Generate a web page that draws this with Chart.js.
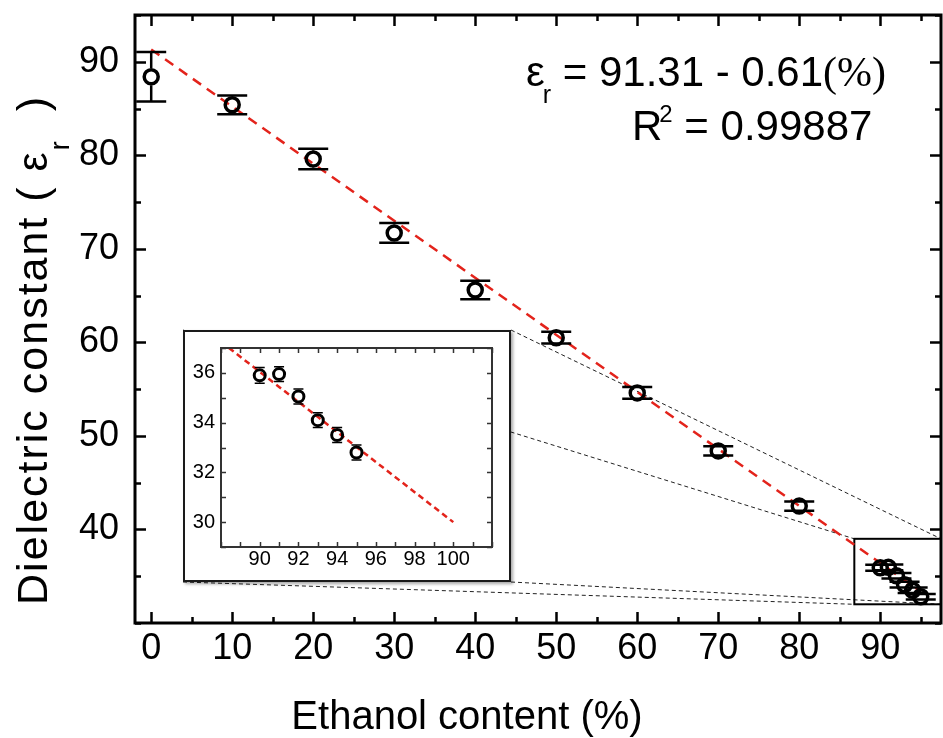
<!DOCTYPE html>
<html>
<head>
<meta charset="utf-8">
<script src="https://cdn.jsdelivr.net/npm/chart.js@4.4.1/dist/chart.umd.min.js"></script>
<style>
  html, body { margin: 0; padding: 0; background: #fff; }
  #wrap { position: relative; width: 943px; height: 738px; overflow: hidden; }
  #mainChart { position: absolute; left: 0; top: 0; }
  #insetBox {
    position: absolute; left: 183px; top: 330px; width: 328px; height: 252px;
    box-sizing: border-box; border: 2px solid #1a1a1a; background: #fff;
    box-shadow: 2px 2px 3px rgba(0, 0, 0, 0.35);
  }
  #insetChart { position: absolute; left: 0; top: 0; }
</style>
</head>
<body>
<div id="wrap">
  <canvas id="mainChart" width="943" height="738"></canvas>
  <div id="insetBox"><canvas id="insetChart" width="324" height="248"></canvas></div>
</div>
<script>
// ---- data ----
var ethanol = [0, 10, 20, 30, 40, 50, 60, 70, 80, 90, 91, 92, 93, 94, 95];
var epsilon = [88.4, 85.4, 79.6, 71.7, 65.6, 60.5, 54.6, 48.4, 42.5, 35.9, 35.95, 35.05, 34.1, 33.5, 32.8];
var epsErr = [2.65, 1.0, 1.1, 1.05, 0.98, 0.63, 0.62, 0.5, 0.5, 0.32, 0.3, 0.3, 0.3, 0.3, 0.3];

// linear fit eps = 91.31 - 0.61(%) as drawn
var fitX = [0, 95];
var fitY = [91.31, 33.36];
var insetFitX = [88, 100];
var insetFitY = [37.25, 30.0];

var xTicks = [0, 10, 20, 30, 40, 50, 60, 70, 80, 90];
var yTicks = [40, 50, 60, 70, 80, 90];
var insetXTicks = [90, 92, 94, 96, 98, 100];
var insetYTicks = [30, 32, 34, 36];

// zoom window marked on the main plot
var zoomX = [86.8, 97.5];
var zoomY = [32, 39];

var insetFrom = 9; // index of the 90 % point

var SANS = '"Liberation Sans", Arial, sans-serif';
var SERIF = '"Liberation Serif", "Times New Roman", serif';
var RED = "#e3231b";

function toXY(xs, ys) {
  return xs.map(function (x, i) {
    return { x: x, y: ys[i] };
  });
}

// keep the plot box where we put it (no extra room for edge labels)
function noPad(s) {
  s.paddingTop = 0;
  s.paddingBottom = 0;
  s.paddingLeft = 0;
  s.paddingRight = 0;
}

// error bars: vertical stem only outside the marker, full caps
function drawErrorBars(chart, xs, ys, errs, capHalf, lw, markR) {
  var ctx = chart.ctx;
  var sx = chart.scales.x;
  var sy = chart.scales.y;
  ctx.save();
  ctx.strokeStyle = "#000";
  ctx.lineWidth = lw;
  ctx.beginPath();
  xs.forEach(function (x, i) {
    var px = sx.getPixelForValue(x);
    var cy = sy.getPixelForValue(ys[i]);
    var top = sy.getPixelForValue(ys[i] + errs[i]);
    var bot = sy.getPixelForValue(ys[i] - errs[i]);
    if (top < cy - markR) {
      ctx.moveTo(px, top);
      ctx.lineTo(px, cy - markR);
    }
    if (bot > cy + markR) {
      ctx.moveTo(px, bot);
      ctx.lineTo(px, cy + markR);
    }
    ctx.moveTo(px - capHalf, top);
    ctx.lineTo(px + capHalf, top);
    ctx.moveTo(px - capHalf, bot);
    ctx.lineTo(px + capHalf, bot);
  });
  ctx.stroke();
  ctx.restore();
}

// box frame with inward ticks on all four sides
function drawFrame(chart, o) {
  var ctx = chart.ctx;
  var a = chart.chartArea;
  var sx = chart.scales.x;
  var sy = chart.scales.y;
  ctx.save();
  ctx.strokeStyle = o.color;
  ctx.lineWidth = o.tickWidth;
  ctx.beginPath();
  var v, px, len;
  for (v = Math.ceil(sx.min / o.xMinor) * o.xMinor; v <= sx.max; v += o.xMinor) {
    px = Math.round(sx.getPixelForValue(v)) + 0.5;
    len = o.xMajor.indexOf(v) > -1 ? o.major : o.minor;
    ctx.moveTo(px, a.bottom);
    ctx.lineTo(px, a.bottom - len);
    ctx.moveTo(px, a.top);
    ctx.lineTo(px, a.top + len);
  }
  for (v = Math.ceil(sy.min / o.yMinor) * o.yMinor; v <= sy.max; v += o.yMinor) {
    px = Math.round(sy.getPixelForValue(v)) + 0.5;
    len = o.yMajor.indexOf(v) > -1 ? o.major : o.minor;
    ctx.moveTo(a.left, px);
    ctx.lineTo(a.left + len, px);
    ctx.moveTo(a.right, px);
    ctx.lineTo(a.right - len, px);
  }
  ctx.stroke();
  ctx.lineWidth = o.frameWidth;
  ctx.strokeRect(a.left, a.top, a.right - a.left, a.bottom - a.top);
  ctx.restore();
}

var mainPlugin = {
  id: "mainDecor",
  beforeDatasetsDraw: function (chart) {
    // zoom window and its connector lines to the inset box
    var ctx = chart.ctx;
    var sx = chart.scales.x;
    var sy = chart.scales.y;
    var box = document.getElementById("insetBox");
    var L = box.offsetLeft, T = box.offsetTop;
    var R = L + box.offsetWidth, B = T + box.offsetHeight;
    var zl = sx.getPixelForValue(zoomX[0]);
    var zr = sx.getPixelForValue(zoomX[1]);
    var zt = sy.getPixelForValue(zoomY[1]);
    var zb = sy.getPixelForValue(zoomY[0]);
    ctx.save();
    ctx.strokeStyle = "#222";
    ctx.lineWidth = 1;
    ctx.setLineDash([4, 3]);
    ctx.beginPath();
    ctx.moveTo(L, T); ctx.lineTo(zl, zt);
    ctx.moveTo(R, T); ctx.lineTo(zr, zt);
    ctx.moveTo(L, B); ctx.lineTo(zl, zb);
    ctx.moveTo(R, B); ctx.lineTo(zr, zb);
    ctx.stroke();
    ctx.setLineDash([]);
    ctx.lineWidth = 2;
    ctx.strokeStyle = "#000";
    ctx.strokeRect(zl, zt, zr - zl, zb - zt);
    ctx.restore();
  },
  beforeDatasetDraw: function (chart, args) {
    if (args.index === 0) {
      drawErrorBars(chart, ethanol, epsilon, epsErr, 15, 2.5, 8.5);
    }
  },
  afterDraw: function (chart) {
    drawFrame(chart, {
      color: "#000", tickWidth: 2.5, frameWidth: 3, major: 11, minor: 6,
      xMajor: xTicks, xMinor: 5, yMajor: yTicks, yMinor: 5
    });
    var ctx = chart.ctx;
    ctx.save();
    ctx.fillStyle = "#000";
    ctx.textAlign = "left";
    ctx.textBaseline = "alphabetic";

    // equation
    ctx.font = "42px " + SANS;
    var x = 526;
    ctx.fillText("\u03b5", x, 86);
    x += ctx.measureText("\u03b5").width - 2;
    ctx.font = "25px " + SANS;
    ctx.fillText("r", x, 103);
    x += ctx.measureText("r").width;
    ctx.font = "42px " + SANS;
    var eq = " = 91.31 - 0.61";
    ctx.fillText(eq, x, 86);
    x += ctx.measureText(eq).width;
    ctx.font = "42px " + SERIF;
    ctx.fillText("(%)", x, 86);

    ctx.font = "42px " + SANS;
    x = 632;
    ctx.fillText("R", x, 140);
    x += ctx.measureText("R").width - 3;
    ctx.font = "24px " + SANS;
    ctx.fillText("2", x, 122);
    x += ctx.measureText("2").width;
    ctx.font = "42px " + SANS;
    ctx.fillText(" = 0.99887", x, 140);

    // x axis title
    ctx.font = "40px " + SANS;
    ctx.textAlign = "center";
    ctx.fillText("Ethanol content (%)", 467, 729);

    // y axis title with subscript
    ctx.translate(47, 350);
    ctx.rotate(-Math.PI / 2);
    ctx.textAlign = "left";
    ctx.letterSpacing = "2px";
    var p1 = "Dielectric constant ( \u03b5";
    var p3 = "  )";
    ctx.font = "43px " + SANS;
    var w1 = ctx.measureText(p1).width;
    var w3 = ctx.measureText(p3).width;
    ctx.font = "27px " + SANS;
    var w2 = ctx.measureText("r").width;
    var x0 = -(w1 + w2 + w3) / 2;
    ctx.font = "43px " + SANS;
    ctx.fillText(p1, x0, 0);
    ctx.font = "27px " + SANS;
    ctx.fillText("r", x0 + w1, 22);
    ctx.font = "43px " + SANS;
    ctx.fillText(p3, x0 + w1 + w2, 0);
    ctx.restore();
  }
};

var insetPlugin = {
  id: "insetDecor",
  beforeDatasetDraw: function (chart, args) {
    if (args.index === 0) {
      drawErrorBars(chart, ethanol.slice(insetFrom), epsilon.slice(insetFrom),
        epsErr.slice(insetFrom), 5, 1.5, 7);
    }
  },
  afterDraw: function (chart) {
    drawFrame(chart, {
      color: "#333", tickWidth: 1.5, frameWidth: 2, major: 5, minor: 5,
      xMajor: insetXTicks, xMinor: 1, yMajor: insetYTicks, yMinor: 1
    });
  }
};

Chart.defaults.font.family = SANS;
Chart.defaults.color = "#000";

new Chart(document.getElementById("mainChart"), {
  type: "scatter",
  data: {
    datasets: [
      {
        label: "Measured",
        data: toXY(ethanol, epsilon),
        pointStyle: "circle",
        pointRadius: 7,
        pointBorderWidth: 3.5,
        pointBorderColor: "#000",
        pointBackgroundColor: "rgba(0,0,0,0)",
        showLine: false
      },
      {
        label: "Fit",
        data: toXY(fitX, fitY),
        showLine: true,
        borderColor: RED,
        borderWidth: 2.5,
        borderDash: [10, 7],
        pointRadius: 0
      }
    ]
  },
  options: {
    responsive: false,
    animation: false,
    events: [],
    layout: { autoPadding: false, padding: { top: 15, right: 2, left: 0, bottom: 0 } },
    plugins: { legend: { display: false }, tooltip: { enabled: false } },
    scales: {
      x: {
        type: "linear",
        min: -2,
        max: 97.5,
        grid: { display: false, drawTicks: false },
        border: { display: false },
        afterBuildTicks: function (s) {
          s.ticks = xTicks.map(function (v) { return { value: v }; });
        },
        afterFit: function (s) { s.height = 115; noPad(s); },
        ticks: { font: { size: 36 }, color: "#000", padding: 4, maxRotation: 0, autoSkip: false }
      },
      y: {
        type: "linear",
        min: 30,
        max: 95,
        grid: { display: false, drawTicks: false },
        border: { display: false },
        afterBuildTicks: function (s) {
          s.ticks = yTicks.map(function (v) { return { value: v }; });
        },
        afterFit: function (s) { s.width = 135; noPad(s); },
        ticks: { font: { size: 36 }, color: "#000", padding: 16, autoSkip: false }
      }
    }
  },
  plugins: [mainPlugin]
});

new Chart(document.getElementById("insetChart"), {
  type: "scatter",
  data: {
    datasets: [
      {
        label: "Measured",
        data: toXY(ethanol.slice(insetFrom), epsilon.slice(insetFrom)),
        pointStyle: "circle",
        pointRadius: 5.5,
        pointBorderWidth: 3,
        pointBorderColor: "#000",
        pointBackgroundColor: "rgba(0,0,0,0)",
        showLine: false
      },
      {
        label: "Fit",
        data: toXY(insetFitX, insetFitY),
        showLine: true,
        borderColor: RED,
        borderWidth: 2.5,
        borderDash: [6, 4],
        pointRadius: 0
      }
    ]
  },
  options: {
    responsive: false,
    animation: false,
    events: [],
    layout: { autoPadding: false, padding: { top: 16, right: 17, left: 0, bottom: 0 } },
    plugins: { legend: { display: false }, tooltip: { enabled: false } },
    scales: {
      x: {
        type: "linear",
        min: 88,
        max: 102,
        grid: { display: false, drawTicks: false },
        border: { display: false },
        afterBuildTicks: function (s) {
          s.ticks = insetXTicks.map(function (v) { return { value: v }; });
        },
        afterFit: function (s) { s.height = 33; noPad(s); },
        ticks: { font: { size: 20 }, color: "#000", padding: 0, maxRotation: 0, autoSkip: false }
      },
      y: {
        type: "linear",
        min: 29,
        max: 37,
        grid: { display: false, drawTicks: false },
        border: { display: false },
        afterBuildTicks: function (s) {
          s.ticks = insetYTicks.map(function (v) { return { value: v }; });
        },
        afterFit: function (s) { s.width = 36; noPad(s); },
        ticks: { font: { size: 20 }, color: "#000", padding: 6, autoSkip: false }
      }
    }
  },
  plugins: [insetPlugin]
});
</script>
</body>
</html>
